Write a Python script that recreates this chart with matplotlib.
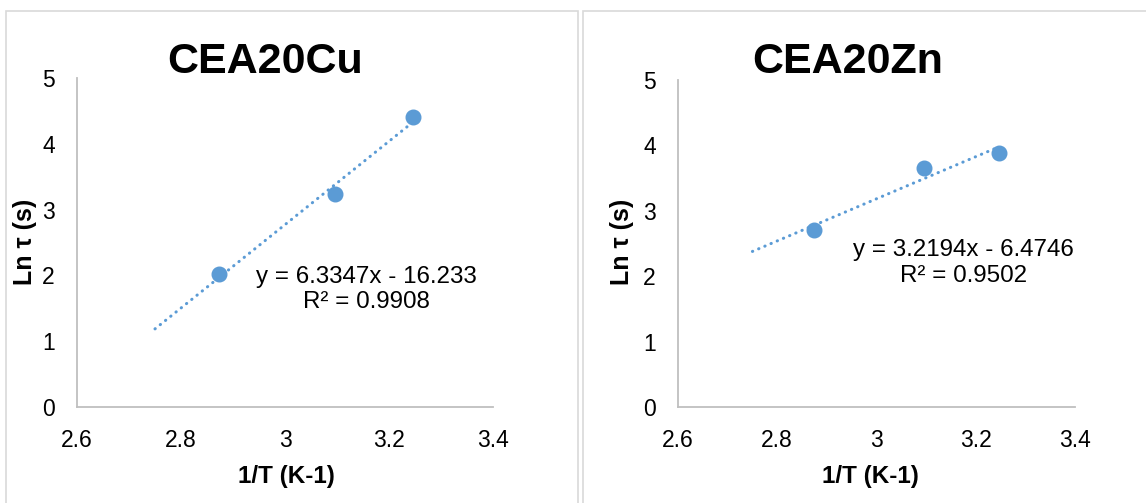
import numpy as np
import matplotlib.pyplot as plt
from matplotlib.patches import Rectangle

plt.rcParams['font.family'] = ['Liberation Sans', 'DejaVu Sans']

# 1/T (x1000, K-1) et Ln tau (s)
inv_t = [2.874, 3.096, 3.247]
ln_tau_cu = [2.02, 3.24, 4.41]
ln_tau_zn = [2.71, 3.65, 3.88]

# droites de regression (Excel)
pente_cu, orig_cu, r2_cu = 6.3347, -16.233, 0.9908
pente_zn, orig_zn, r2_zn = 3.2194, -6.4746, 0.9502
x_debut_tendance = 2.75

x_ticks = [2.6, 2.8, 3.0, 3.2, 3.4]
x_tick_labels = ["2.6", "2.8", "3", "3.2", "3.4"]
y_ticks = [0, 1, 2, 3, 4, 5]

BLEU = "#5b9bd5"
GRIS_AXE = "#bfbfbf"
GRIS_CADRE = "#d9d9d9"

fig = plt.figure(figsize=(11.46, 5.03), dpi=100)

# cadres des deux graphiques
W, H = 1146, 503
for x0, x1 in [(6, 578), (583, 1160)]:
    fig.patches.append(Rectangle((x0 / W, -0.1), (x1 - x0) / W, (H - 11) / H + 0.1,
                                 transform=fig.transFigure, fill=False,
                                 edgecolor=GRIS_CADRE, linewidth=1.2))


def panneau(rect, y, pente, orig, r2, titre, titre_x, ylab_x, xlab_x, eq_pos):
    ax = fig.add_axes(rect)
    ax.plot(inv_t, y, "o", color=BLEU, markersize=10.5, zorder=3)
    xt = np.array([x_debut_tendance, inv_t[-1]])
    ax.plot(xt, pente * xt + orig, color=BLEU, linewidth=2.2,
            linestyle=(0, (0.1, 2.1)), dash_capstyle="round", zorder=2)
    ax.set_xlim(2.6, 3.4)
    ax.set_ylim(0, 5)
    ax.set_xticks(x_ticks)
    ax.set_xticklabels(x_tick_labels)
    ax.set_yticks(y_ticks)
    ax.tick_params(length=0, labelsize=16.5, colors="#000000")
    ax.tick_params(axis="x", pad=16)
    ax.tick_params(axis="y", pad=16)
    for s in ["top", "right"]:
        ax.spines[s].set_visible(False)
    for s in ["left", "bottom"]:
        ax.spines[s].set_color(GRIS_AXE)
        ax.spines[s].set_linewidth(1.3)
    signe = "-" if orig < 0 else "+"
    ax.text(eq_pos[0], eq_pos[1],
            f"y = {pente:.4f}x {signe} {abs(orig):g}\nR² = {r2:.4f}",
            transform=ax.transAxes, ha="center", va="center",
            fontsize=17.4, linespacing=1.2)
    fig.text(titre_x / W, 1 - 62 / H, titre, ha="center", va="center",
             fontsize=31, fontweight="bold")
    fig.text(ylab_x / W, 1 - 242 / H, "Ln τ (s)", rotation=90, ha="center",
             va="center", fontsize=18, fontweight="bold")
    fig.text(xlab_x / W, 1 - 477 / H, "1/T (K-1)", ha="center", va="center",
             fontsize=17.5, fontweight="bold")
    return ax


panneau([77 / W, 96 / H, 416 / W, 329 / H], ln_tau_cu, pente_cu, orig_cu, r2_cu,
        "CEA20Cu", 265, 25, 286, (0.695, 0.357))
panneau([678 / W, 96 / H, 397 / W, 327 / H], ln_tau_zn, pente_zn, orig_zn, r2_zn,
        "CEA20Zn", 848, 622, 870, (0.72, 0.44))

fig.savefig("out.png", dpi=100)
